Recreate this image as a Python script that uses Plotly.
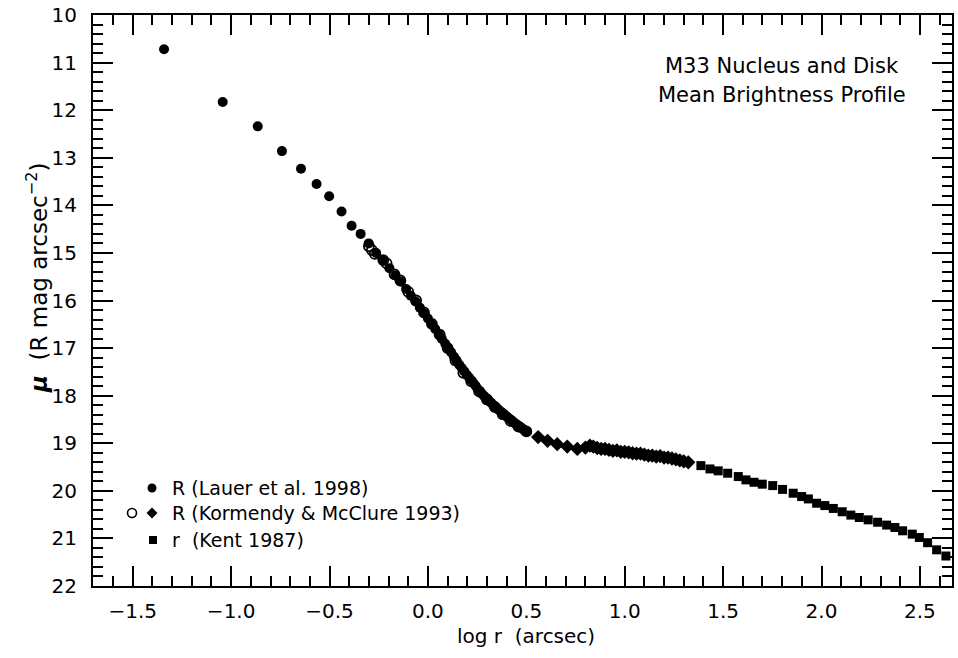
import plotly.graph_objects as go

# ---------------- data ----------------
lauer_x = [-1.341, -1.043, -0.865, -0.742, -0.645, -0.566, -0.502, -0.439, -0.388,
           -0.342, -0.301, -0.263, -0.228, -0.196, -0.166, -0.138, -0.111, -0.087, -0.063,
           -0.041, -0.020, 0.000, 0.019, 0.037, 0.055, 0.071, 0.088, 0.103, 0.118,
           0.132, 0.146, 0.159, 0.172, 0.185, 0.197, 0.209, 0.220, 0.232, 0.243,
           0.253, 0.264, 0.274, 0.284, 0.293, 0.303, 0.312, 0.321, 0.330, 0.338,
           0.347, 0.355, 0.363, 0.371, 0.379, 0.386, 0.394, 0.401, 0.408, 0.415,
           0.422, 0.429, 0.436, 0.442, 0.449, 0.455, 0.461, 0.467, 0.473, 0.479,
           0.485, 0.491, 0.497, 0.503]
lauer_y = [10.72, 11.83, 12.34, 12.86, 13.23, 13.55, 13.81, 14.13, 14.43,
           14.60, 14.80, 15.00, 15.16, 15.32, 15.47, 15.60, 15.76, 15.90, 16.02,
           16.15, 16.27, 16.38, 16.50, 16.60, 16.71, 16.81, 16.91, 17.00, 17.09,
           17.18, 17.27, 17.35, 17.42, 17.49, 17.56, 17.62, 17.68, 17.74, 17.80,
           17.86, 17.91, 17.96, 18.00, 18.04, 18.08, 18.12, 18.15, 18.19, 18.22,
           18.25, 18.28, 18.31, 18.34, 18.37, 18.39, 18.42, 18.44, 18.47, 18.49,
           18.51, 18.54, 18.56, 18.58, 18.60, 18.62, 18.64, 18.66, 18.67, 18.69,
           18.71, 18.72, 18.74, 18.76]

kormendy_open_x = [-0.30, -0.285, -0.27, -0.227, -0.21, -0.17, -0.14, -0.10, -0.06, -0.02,
                   0.02, 0.06, 0.10, 0.14, 0.18, 0.22, 0.26, 0.30, 0.34, 0.38, 0.42, 0.46, 0.50]
kormendy_open_y = [14.86, 14.94, 15.02, 15.15, 15.22, 15.45, 15.58, 15.82, 16.00, 16.25,
                   16.49, 16.72, 17.00, 17.26, 17.52, 17.70, 17.91, 18.08, 18.24, 18.39, 18.53, 18.65, 18.75]

kormendy_dia_x = [0.560, 0.608, 0.657, 0.708, 0.759, 0.800, 0.823, 0.840, 0.860, 0.880,
                  0.900, 0.920, 0.940, 0.960, 0.980, 1.000, 1.020, 1.040, 1.060, 1.080,
                  1.100, 1.120, 1.140, 1.160, 1.180, 1.200, 1.220, 1.240, 1.260, 1.280,
                  1.300, 1.323]
kormendy_dia_y = [18.87, 18.95, 19.02, 19.07, 19.12, 19.09, 19.05, 19.07, 19.10, 19.12,
                  19.12, 19.14, 19.16, 19.15, 19.18, 19.18, 19.19, 19.21, 19.22, 19.22,
                  19.24, 19.26, 19.26, 19.28, 19.27, 19.30, 19.30, 19.32, 19.34, 19.36,
                  19.38, 19.40]

kent_x = [1.387, 1.433, 1.475, 1.523, 1.577, 1.616, 1.657, 1.699, 1.752, 1.802,
          1.856, 1.899, 1.933, 1.975, 2.017, 2.060, 2.105, 2.149, 2.192, 2.237,
          2.285, 2.331, 2.373, 2.412, 2.461, 2.497, 2.539, 2.585, 2.632]
kent_y = [19.47, 19.54, 19.58, 19.63, 19.70, 19.77, 19.82, 19.86, 19.89, 19.97,
          20.05, 20.12, 20.17, 20.26, 20.31, 20.37, 20.44, 20.51, 20.56, 20.61,
          20.66, 20.72, 20.77, 20.84, 20.91, 20.98, 21.09, 21.24, 21.37]

x_tickvals = [-1.5, -1.0, -0.5, 0.0, 0.5, 1.0, 1.5, 2.0, 2.5]
x_ticktext = ["\u22121.5", "\u22121.0", "\u22120.5", "0.0", "0.5", "1.0", "1.5", "2.0", "2.5"]
y_tickvals = list(range(10, 23))

legend_labels = ["R (Lauer et al. 1998)", "R (Kormendy & McClure 1993)", "r  (Kent 1987)"]
title_lines = ["M33 Nucleus and Disk", "Mean Brightness Profile"]
x_title = "log r  (arcsec)"
y_title = "<b><i>\u03bc</i></b>  (R mag arcsec<sup>\u22122</sup>)"

# ---------------- figure ----------------
W, H = 958, 658
ML, MR, MT, MB = 93, 6, 15, 72
PW, PH = W - ML - MR, H - MT - MB
FONT = "DejaVu Sans"


def px(xp):
    return (xp - ML) / PW


def py(yp):
    return (H - MB - yp) / PH


fig = go.Figure()
fig.add_trace(go.Scatter(x=kormendy_open_x, y=kormendy_open_y, mode="markers",
                         marker=dict(symbol="circle-open", size=10, color="black",
                                     line=dict(width=1.8, color="black")),
                         showlegend=False))
fig.add_trace(go.Scatter(x=lauer_x, y=lauer_y, mode="markers",
                         marker=dict(symbol="circle", size=10, color="black", line=dict(width=0)),
                         showlegend=False))
fig.add_trace(go.Scatter(x=kormendy_dia_x, y=kormendy_dia_y, mode="markers",
                         marker=dict(symbol="diamond", size=11, color="black", line=dict(width=0)),
                         showlegend=False))
fig.add_trace(go.Scatter(x=kent_x, y=kent_y, mode="markers",
                         marker=dict(symbol="square", size=9, color="black", line=dict(width=0)),
                         showlegend=False))

axis_common = dict(showline=True, linecolor="black", linewidth=2, mirror="allticks",
                   ticks="inside", ticklen=20, tickwidth=2, tickcolor="black",
                   showgrid=False, zeroline=False,
                   tickfont=dict(family=FONT, size=20, color="black"))

fig.update_xaxes(range=[-1.702, 2.663], tickmode="array", tickvals=x_tickvals,
                 ticktext=x_ticktext,
                 minor=dict(dtick=0.1, ticks="inside", ticklen=10, tickwidth=2,
                            tickcolor="black", showgrid=False),
                 ticklabelstandoff=6, **axis_common)
fig.update_yaxes(range=[22, 10], tickmode="array", tickvals=y_tickvals,
                 minor=dict(dtick=0.2, ticks="inside", ticklen=10, tickwidth=2,
                            tickcolor="black", showgrid=False),
                 ticklabelstandoff=10, **axis_common)

shapes = []
r = 4.5
for (cx, cy, kind) in [(152, 488, "dot"), (132, 513, "open"), (152, 513, "diamond"), (153, 540, "square")]:
    if kind in ("dot", "open"):
        shapes.append(dict(type="circle", xref="paper", yref="paper",
                           x0=px(cx - r), x1=px(cx + r), y0=py(cy + r), y1=py(cy - r),
                           fillcolor="black" if kind == "dot" else "rgba(0,0,0,0)",
                           line=dict(color="black", width=0 if kind == "dot" else 1.6)))
    elif kind == "diamond":
        d = 5.5
        path = "M {} {} L {} {} L {} {} L {} {} Z".format(
            px(cx), py(cy - d), px(cx + d), py(cy), px(cx), py(cy + d), px(cx - d), py(cy))
        shapes.append(dict(type="path", xref="paper", yref="paper", path=path,
                           fillcolor="black", line=dict(width=0)))
    else:
        s = 4
        shapes.append(dict(type="rect", xref="paper", yref="paper",
                           x0=px(cx - s), x1=px(cx + s), y0=py(cy + s), y1=py(cy - s),
                           fillcolor="black", line=dict(width=0)))

annotations = []
for lab, cy in zip(legend_labels, [488, 513, 540]):
    annotations.append(dict(text=lab, xref="paper", yref="paper", x=px(170), y=py(cy),
                            xanchor="left", yanchor="middle", showarrow=False,
                            font=dict(family=FONT, size=19, color="black")))
for line, cy in zip(title_lines, [66, 95]):
    annotations.append(dict(text=line, xref="paper", yref="paper", x=px(782), y=py(cy),
                            xanchor="center", yanchor="middle", showarrow=False,
                            font=dict(family=FONT, size=21, color="black")))
annotations.append(dict(text=x_title, xref="paper", yref="paper", x=px(526), y=py(636),
                        xanchor="center", yanchor="middle", showarrow=False,
                        font=dict(family=FONT, size=20, color="black")))
annotations.append(dict(text=y_title, xref="paper", yref="paper", x=px(37), y=py(278),
                        xanchor="center", yanchor="middle", showarrow=False, textangle=-90,
                        font=dict(family=FONT, size=23, color="black")))

fig.update_layout(width=W, height=H, margin=dict(l=ML, r=MR, t=MT, b=MB, autoexpand=False),
                  paper_bgcolor="white", plot_bgcolor="white", shapes=shapes,
                  annotations=annotations, showlegend=False)

fig.write_html("out.html")
